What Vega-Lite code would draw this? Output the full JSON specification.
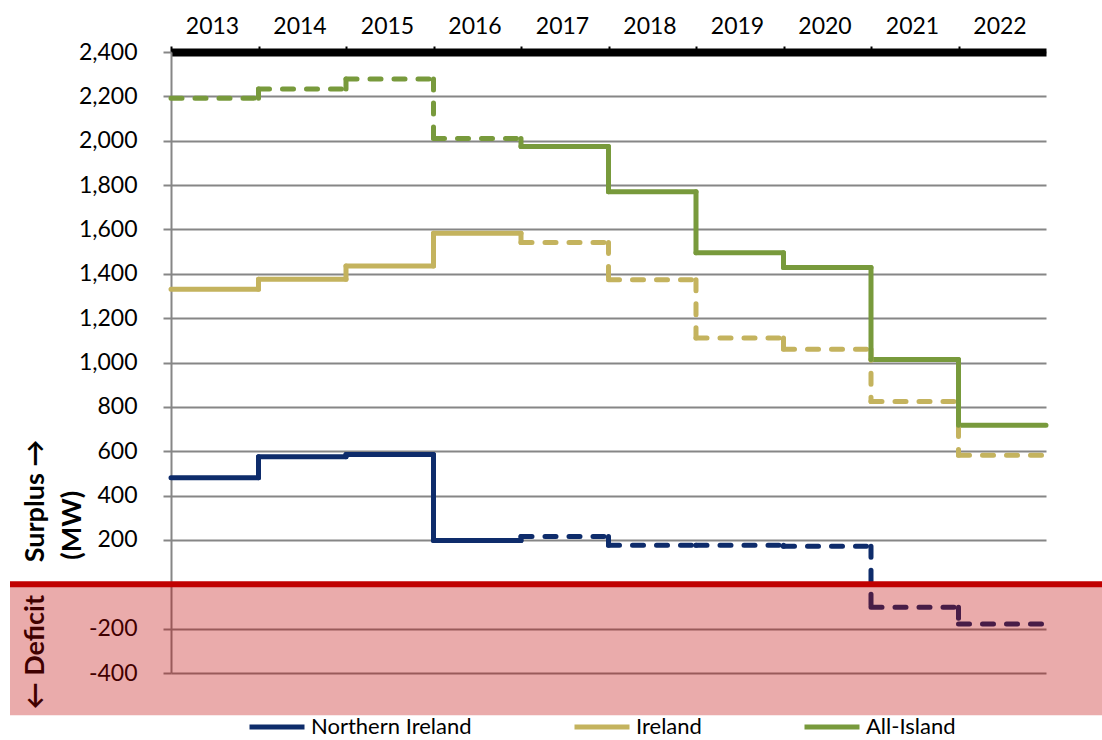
{
  "$schema": "https://vega.github.io/schema/vega-lite/v6.json",
  "width": 875,
  "height": 621,
  "autosize": "none",
  "padding": {"left": 171, "top": 52, "right": 56, "bottom": 67},
  "background": "white",
  "config": {
    "font": "Lato",
    "view": {"stroke": null},
    "axis": {"labelFont": "Lato", "titleFont": "Lato", "labelColor": "#000000"}
  },
  "data": {
    "values": [
      {"series": "Northern Ireland", "year": "2013", "surplus": 480, "basis": "firm"},
      {"series": "Northern Ireland", "year": "2014", "surplus": 575, "basis": "firm"},
      {"series": "Northern Ireland", "year": "2015", "surplus": 585, "basis": "firm"},
      {"series": "Northern Ireland", "year": "2016", "surplus": 197, "basis": "firm"},
      {"series": "Northern Ireland", "year": "2017", "surplus": 216, "basis": "indicative"},
      {"series": "Northern Ireland", "year": "2018", "surplus": 176, "basis": "indicative"},
      {"series": "Northern Ireland", "year": "2019", "surplus": 176, "basis": "indicative"},
      {"series": "Northern Ireland", "year": "2020", "surplus": 171, "basis": "indicative"},
      {"series": "Northern Ireland", "year": "2021", "surplus": -104, "basis": "indicative"},
      {"series": "Northern Ireland", "year": "2022", "surplus": -179, "basis": "indicative"},
      {"series": "Ireland", "year": "2013", "surplus": 1330, "basis": "firm"},
      {"series": "Ireland", "year": "2014", "surplus": 1375, "basis": "firm"},
      {"series": "Ireland", "year": "2015", "surplus": 1435, "basis": "firm"},
      {"series": "Ireland", "year": "2016", "surplus": 1583, "basis": "firm"},
      {"series": "Ireland", "year": "2017", "surplus": 1541, "basis": "indicative"},
      {"series": "Ireland", "year": "2018", "surplus": 1373, "basis": "indicative"},
      {"series": "Ireland", "year": "2019", "surplus": 1111, "basis": "indicative"},
      {"series": "Ireland", "year": "2020", "surplus": 1060, "basis": "indicative"},
      {"series": "Ireland", "year": "2021", "surplus": 824, "basis": "indicative"},
      {"series": "Ireland", "year": "2022", "surplus": 582, "basis": "indicative"},
      {"series": "All-Island", "year": "2013", "surplus": 2192, "basis": "indicative"},
      {"series": "All-Island", "year": "2014", "surplus": 2233, "basis": "indicative"},
      {"series": "All-Island", "year": "2015", "surplus": 2278, "basis": "indicative"},
      {"series": "All-Island", "year": "2016", "surplus": 2010, "basis": "indicative"},
      {"series": "All-Island", "year": "2017", "surplus": 1974, "basis": "firm"},
      {"series": "All-Island", "year": "2018", "surplus": 1770, "basis": "firm"},
      {"series": "All-Island", "year": "2019", "surplus": 1495, "basis": "firm"},
      {"series": "All-Island", "year": "2020", "surplus": 1428, "basis": "firm"},
      {"series": "All-Island", "year": "2021", "surplus": 1014, "basis": "firm"},
      {"series": "All-Island", "year": "2022", "surplus": 717, "basis": "firm"}
    ]
  },
  "layer": [
    {
      "mark": {"type": "rule", "strokeWidth": 5, "strokeCap": "round"},
      "encoding": {
        "x": {
          "field": "year", "type": "ordinal", "bandPosition": 0,
          "scale": {"paddingInner": 0, "paddingOuter": 0},
          "axis": {
            "orient": "top", "title": null, "labelAngle": 0,
            "tickOffset": -43.75, "labelOffset": 41,
            "labelFontSize": 23, "labelPadding": 8,
            "domainColor": "#000000", "domainWidth": 8,
            "tickColor": "#000000", "tickWidth": 2, "tickSize": 6,
            "grid": false
          }
        },
        "x2": {"field": "year", "bandPosition": 1},
        "y": {
          "field": "surplus", "type": "quantitative",
          "scale": {"domain": [-400, 2400], "nice": false, "zero": false},
          "axis": {
            "values": [-400, -200, 0, 200, 400, 600, 800, 1000, 1200, 1400, 1600, 1800, 2000, 2200, 2400],
            "format": ",.0f",
            "labelExpr": "datum.value == 0 ? '' : replace(datum.label, '\u2212', '-')",
            "labelFontSize": 23, "labelPadding": 26,
            "tickSize": 8, "tickColor": "#868686", "tickWidth": 2,
            "domainColor": "#868686", "domainWidth": 2,
            "grid": true, "gridColor": "#868686", "gridWidth": 2,
            "title": ["← Deficit\u00a0\u00a0\u00a0\u00a0\u00a0Surplus →", "\u200b\u00a0\u00a0\u00a0\u00a0\u00a0\u00a0\u00a0\u00a0\u00a0\u00a0\u00a0\u00a0\u00a0\u00a0\u00a0(MW)"],
            "titleFontSize": 27, "titleFontWeight": "bold", "titleColor": "#000000",
            "titleLineHeight": 37, "titleBaseline": "bottom",
            "titleX": -122, "titleY": 522, "titleAngle": -90
          }
        },
        "color": {
          "field": "series", "type": "nominal",
          "scale": {"domain": ["Northern Ireland", "Ireland", "All-Island"], "range": ["#0E2C6B", "#C4B35E", "#789A3C"]},
          "legend": {
            "orient": "none", "legendX": 76, "legendY": 645,
            "direction": "horizontal", "title": null,
            "symbolType": "stroke", "symbolStrokeWidth": 5, "symbolSize": 3025,
            "labelFontSize": 22, "labelFont": "Lato", "labelColor": "#000000", "labelLimit": 400,
            "labelOffset": 4, "columnPadding": 92
          }
        },
        "strokeDash": {
          "field": "basis", "type": "nominal",
          "scale": {"domain": ["firm", "indicative"], "range": [[1, 0], [11, 13]]},
          "legend": null
        }
      }
    },
    {
      "transform": [
        {"window": [{"op": "lag", "field": "surplus", "as": "previous"}], "groupby": ["series"], "sort": [{"field": "year"}]},
        {"filter": "datum.previous != null"}
      ],
      "mark": {"type": "rule", "strokeWidth": 5, "strokeCap": "round"},
      "encoding": {
        "x": {"field": "year", "type": "ordinal", "bandPosition": 0},
        "y": {"field": "previous", "type": "quantitative"},
        "y2": {"field": "surplus"},
        "color": {"field": "series", "type": "nominal"},
        "strokeDash": {"field": "basis", "type": "nominal"}
      }
    },
    {
      "data": {"values": [{"zone": "Deficit"}]},
      "mark": {"type": "rect", "color": "#C00000", "opacity": 0.33, "clip": false, "xOffset": -161, "x2Offset": 56},
      "encoding": {
        "x": {"datum": "2013", "type": "ordinal", "bandPosition": 0},
        "x2": {"datum": "2022", "bandPosition": 1},
        "y": {"datum": 0, "type": "quantitative"},
        "y2": {"datum": -590}
      }
    },
    {
      "data": {"values": [{"zone": "Deficit"}]},
      "mark": {"type": "rule", "color": "#C00000", "strokeWidth": 6, "clip": false, "xOffset": -161, "x2Offset": 56},
      "encoding": {
        "x": {"datum": "2013", "type": "ordinal", "bandPosition": 0},
        "x2": {"datum": "2022", "bandPosition": 1},
        "y": {"datum": 0, "type": "quantitative"}
      }
    }
  ]
}
